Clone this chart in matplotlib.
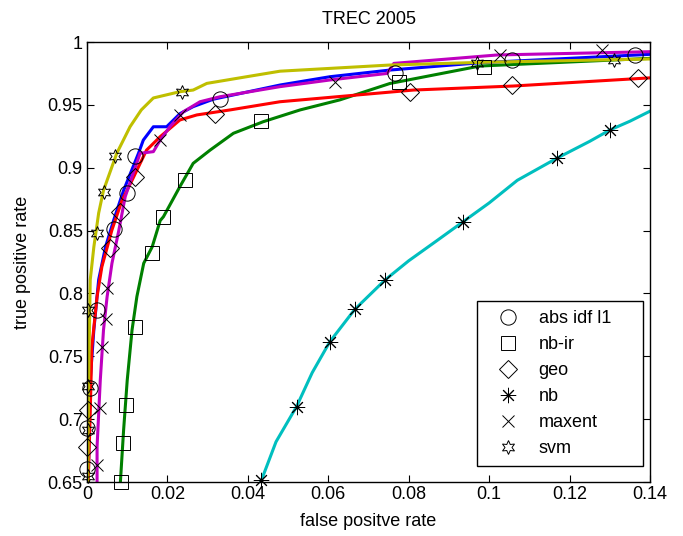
import matplotlib
matplotlib.use('Agg')
import matplotlib.pyplot as plt
from matplotlib.lines import Line2D
from matplotlib.ticker import FuncFormatter

plt.rcParams['font.family'] = ['Liberation Sans', 'DejaVu Sans']
plt.rcParams['font.size'] = 13

# ROC curves (false positive rate, true positive rate)
abs_x = [0.0003, 0.0008, 0.0017, 0.0029, 0.0046, 0.0066, 0.0091, 0.0128, 0.014, 0.0165,
         0.0198, 0.0231, 0.0264, 0.0314, 0.048, 0.0604, 0.0753, 0.0977, 0.14]
abs_y = [0.65, 0.731, 0.771, 0.811, 0.837, 0.858, 0.882, 0.9115, 0.922, 0.9326,
         0.9326, 0.943, 0.9486, 0.9545, 0.9658, 0.9724, 0.9777, 0.9835, 0.9902]

nbir_x = [0.0083, 0.0091, 0.01, 0.0112, 0.0124, 0.0141, 0.0162, 0.0182, 0.019, 0.0231,
          0.0264, 0.0306, 0.0364, 0.0438, 0.053, 0.0629, 0.0753, 0.0977, 0.14]
nbir_y = [0.65, 0.6914, 0.731, 0.771, 0.7975, 0.824, 0.837, 0.858, 0.861, 0.885,
          0.9035, 0.914, 0.9274, 0.9366, 0.946, 0.954, 0.967, 0.9809, 0.987]

geo_x = [0.0003, 0.0008, 0.0012, 0.0025, 0.0037, 0.0062, 0.0087, 0.0112, 0.0148, 0.0182,
         0.0231, 0.0273, 0.0356, 0.048, 0.0812, 0.106, 0.14]
geo_y = [0.65, 0.705, 0.7576, 0.7975, 0.8213, 0.8505, 0.874, 0.89, 0.914, 0.9247,
         0.938, 0.942, 0.946, 0.9525, 0.9618, 0.965, 0.9715]

nb_x = [0.0432, 0.047, 0.0521, 0.056, 0.0604, 0.0666, 0.0741, 0.08, 0.087, 0.0935,
        0.1, 0.107, 0.1168, 0.125, 0.13, 0.135, 0.14]
nb_y = [0.65, 0.682, 0.71, 0.737, 0.7617, 0.7874, 0.8107, 0.826, 0.842, 0.857,
        0.872, 0.89, 0.9075, 0.921, 0.93, 0.937, 0.945]

maxent_x = [0.0025, 0.0025, 0.0033, 0.0041, 0.005, 0.0062, 0.0079, 0.0095, 0.0132, 0.0165,
            0.0182, 0.0206, 0.024, 0.0281, 0.0331, 0.048, 0.0604, 0.0746, 0.0763, 0.102, 0.14]
maxent_y = [0.65, 0.678, 0.731, 0.771, 0.7975, 0.824, 0.85, 0.877, 0.9115, 0.9128,
            0.922, 0.9326, 0.9446, 0.9525, 0.9565, 0.9645, 0.9698, 0.975, 0.983, 0.9897, 0.9923]

svm_x = [0.0002, 0.0004, 0.0008, 0.0017, 0.0029, 0.0041, 0.0074, 0.0107, 0.0135, 0.0165,
         0.0231, 0.0264, 0.0298, 0.0397, 0.048, 0.0753, 0.1, 0.14]
svm_y = [0.65, 0.731, 0.8107, 0.837, 0.864, 0.882, 0.9115, 0.9326, 0.946, 0.9555,
         0.9605, 0.9618, 0.9671, 0.9724, 0.9768, 0.9817, 0.984, 0.9865]

# marker positions along each curve
abs_mx = [0.0, 0.0, 0.0008, 0.0025, 0.0066, 0.0099, 0.0119, 0.0331, 0.0766, 0.1056, 0.1363]
abs_my = [0.66, 0.693, 0.7245, 0.787, 0.851, 0.880, 0.909, 0.955, 0.975, 0.986, 0.990]
nbir_mx = [0.0085, 0.009, 0.0097, 0.012, 0.0162, 0.0189, 0.0244, 0.0433, 0.0777, 0.0986]
nbir_my = [0.65, 0.681, 0.711, 0.773, 0.832, 0.861, 0.89, 0.937, 0.968, 0.980]
geo_mx = [0.0, 0.0003, 0.0058, 0.0082, 0.0119, 0.0318, 0.0803, 0.1056, 0.137]
geo_my = [0.678, 0.707, 0.836, 0.865, 0.893, 0.943, 0.9605, 0.9658, 0.971]
nb_mx = [0.0432, 0.0521, 0.0604, 0.0666, 0.0741, 0.0935, 0.1168, 0.13]
nb_my = [0.652, 0.71, 0.7617, 0.7874, 0.8107, 0.857, 0.9075, 0.93]
maxent_mx = [0.0025, 0.0033, 0.0037, 0.0046, 0.005, 0.0182, 0.0231, 0.0617, 0.1027, 0.128]
maxent_my = [0.6635, 0.7087, 0.7576, 0.78, 0.8045, 0.922, 0.942, 0.968, 0.9897, 0.9936]
svm_mx = [0.0003, 0.0003, 0.0003, 0.0003, 0.0025, 0.0042, 0.007, 0.0236, 0.097, 0.131]
svm_my = [0.655, 0.691, 0.726, 0.787, 0.848, 0.881, 0.909, 0.96, 0.983, 0.9856]

labels = ['abs idf l1', 'nb-ir', 'geo', 'nb', 'maxent', 'svm']
colors = ['#0000ff', '#008000', '#ff0000', '#00bfbf', '#bf00bf', '#bfbf00']
markers = ['o', 's', 'D', (8, 2, 0), 'x', (6, 1, 0)]
msizes = [11, 10, 9, 11, 9, 10]

curves = [(abs_x, abs_y), (nbir_x, nbir_y), (geo_x, geo_y),
          (nb_x, nb_y), (maxent_x, maxent_y), (svm_x, svm_y)]
marks = [(abs_mx, abs_my), (nbir_mx, nbir_my), (geo_mx, geo_my),
         (nb_mx, nb_my), (maxent_mx, maxent_my), (svm_mx, svm_my)]

fig = plt.figure(figsize=(6.83, 5.36), dpi=100)
ax = fig.add_axes([0.1274, 0.1007, 0.8243, 0.8209])

for (cx, cy), c in zip(curves, colors):
    ax.plot(cx, cy, color=c, lw=2.2, zorder=2)

for (mx, my), m, s in zip(marks, markers, msizes):
    ax.plot(mx, my, ls='none', marker=m, ms=s, mfc='none', mec='black',
            mew=0.7, clip_on=False, zorder=3)

ax.set_xlim(0, 0.14)
ax.set_ylim(0.65, 1)
ax.set_xticks([0, 0.02, 0.04, 0.06, 0.08, 0.1, 0.12, 0.14])
ax.set_yticks([0.65, 0.7, 0.75, 0.8, 0.85, 0.9, 0.95, 1])
fmt = FuncFormatter(lambda v, p: '%g' % round(v, 4))
ax.xaxis.set_major_formatter(fmt)
ax.yaxis.set_major_formatter(fmt)
ax.tick_params(direction='in', top=True, right=True, length=5, width=0.8,
               labelsize=13, pad=3)
for sp in ax.spines.values():
    sp.set_linewidth(1.0)

ax.set_xlabel('false positve rate', fontsize=13, labelpad=7)
ax.set_ylabel('true positive rate', fontsize=13, labelpad=12)
ax.set_title('TREC 2005', fontsize=13, pad=13)

handles = [Line2D([], [], ls='none', marker=m, ms=s, mfc='none', mec='black', mew=0.7)
           for m, s in zip(markers, msizes)]
leg = ax.legend(handles, labels, loc='lower left',
                bbox_to_anchor=(0.693, 0.036, 0.295, 0.38), mode='expand',
                fancybox=False, framealpha=1, edgecolor='black', fontsize=13,
                labelspacing=0.5, handlelength=2.4, handletextpad=0.5,
                borderpad=0.5, borderaxespad=0)
leg.get_frame().set_linewidth(1.0)

fig.savefig('out.png', dpi=100)
